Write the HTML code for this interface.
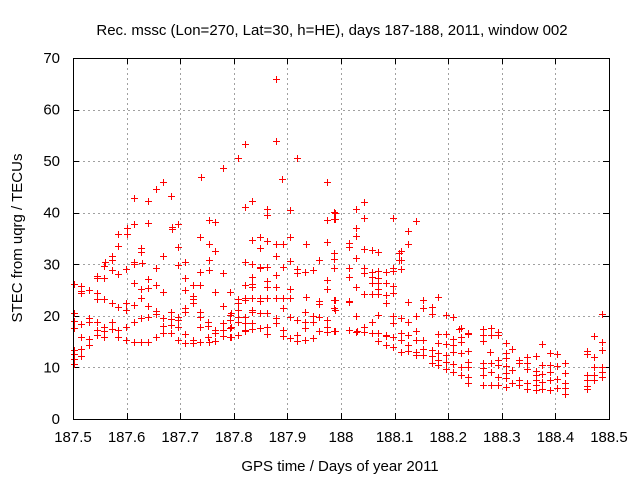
<!DOCTYPE html>
<html><head><meta charset="utf-8">
<style>
html,body{margin:0;padding:0;background:#fff;}
svg{display:block;font-family:"Liberation Sans",sans-serif;}
</style></head>
<body>
<svg id="chart" width="640" height="480" viewBox="0 0 640 480" xmlns="http://www.w3.org/2000/svg">
<rect x="0" y="0" width="640" height="480" fill="#fff"/>
<text x="332" y="35" font-size="15" text-anchor="middle" fill="#000">Rec. mssc (Lon=270, Lat=30, h=HE), days 187-188, 2011, window 002</text>
<g id="grid"></g>
<g id="ticks"></g>
<g id="marks"></g>
<rect x="73.5" y="58.5" width="536" height="361" fill="none" stroke="#000" stroke-width="1"/>
<text x="340" y="471" font-size="15" text-anchor="middle">GPS time / Days of year 2011</text>
<text x="0" y="0" font-size="15" text-anchor="middle" transform="translate(22,238) rotate(-90)">STEC from uqrg / TECUs</text>
</svg>
<script>
const xTicks = [187.5,187.6,187.7,187.8,187.9,188,188.1,188.2,188.3,188.4,188.5];
const xTickLabels = ["187.5","187.6","187.7","187.8","187.9","188","188.1","188.2","188.3","188.4","188.5"];
const yTicks = [0,10,20,30,40,50,60,70];
const yTickLabels = ["0","10","20","30","40","50","60","70"];
const obsA = [[187.821,53.3],[187.808,50.6],[187.780,48.7],[187.739,46.9],[187.668,46.0],[187.655,44.6],[187.683,43.2],[187.614,42.9],[187.640,42.3],[187.834,42.3],[187.821,41.1],[187.614,37.8],[187.640,38.0],[187.600,37.0],[187.684,37.2],[187.684,36.8],[187.696,37.8],[187.754,38.6],[187.765,38.2],[187.584,35.9],[187.600,35.9],[187.737,35.3],[187.834,34.7],[187.584,33.5],[187.627,33.2],[187.627,32.4],[187.696,33.4],[187.754,33.9],[187.765,32.6],[187.668,31.6],[187.572,31.6],[187.560,30.4],[187.572,30.8],[187.614,30.4],[187.614,30.1],[187.628,30.2],[187.754,30.8],[187.709,30.4],[187.821,30.4],[187.834,30.1],[187.558,29.7],[187.572,28.9],[187.584,28.1],[187.598,29.1],[187.696,29.9],[187.655,29.3],[187.737,28.5],[187.754,28.9],[187.780,28.3],[187.545,27.7],[187.558,27.3],[187.545,27.3],[187.502,26.2],[187.514,25.8],[187.640,27.2],[187.709,27.3],[187.834,27.5],[187.834,26.2],[187.821,26.0],[187.614,26.4],[187.640,25.4],[187.627,25.2],[187.655,26.0],[187.668,24.6],[187.709,25.0],[187.724,26.0],[187.737,26.0],[187.765,24.6],[187.793,24.6],[187.514,24.8],[187.530,25.0],[187.514,24.4],[187.545,24.4],[187.545,23.3],[187.558,23.3],[187.572,22.5],[187.584,21.7],[187.598,22.5],[187.598,21.1],[187.614,22.1],[187.627,23.5],[187.640,21.9],[187.655,20.9],[187.655,20.4],[187.683,20.7],[187.696,19.8],[187.696,19.2],[187.709,21.5],[187.709,20.7],[187.724,23.9],[187.724,23.3],[187.724,22.5],[187.737,20.7],[187.737,19.8],[187.780,21.9],[187.808,23.3],[187.808,22.5],[187.821,23.1],[187.834,20.7]];
const obsB = [[187.502,20.6],[187.502,19.0],[187.502,17.6],[187.514,18.4],[187.530,19.6],[187.530,18.8],[187.545,18.8],[187.545,17.3],[187.558,17.8],[187.558,17.1],[187.572,18.8],[187.572,17.5],[187.584,17.3],[187.598,17.8],[187.614,18.8],[187.627,19.6],[187.640,19.8],[187.668,19.6],[187.668,18.0],[187.683,19.4],[187.683,18.2],[187.696,17.8],[187.752,18.8],[187.752,18.0],[187.765,17.3],[187.765,16.7],[187.780,18.6],[187.780,17.3],[187.780,16.1],[187.793,20.2],[187.793,19.2],[187.793,17.6],[187.808,21.1],[187.808,19.8],[187.808,18.8],[187.821,18.6],[187.821,17.3],[187.834,18.6],[187.834,17.5],[187.514,15.9],[187.530,15.5],[187.530,14.3],[187.545,16.3],[187.558,15.9],[187.584,15.9],[187.598,15.3],[187.614,14.9],[187.627,14.9],[187.640,14.9],[187.655,15.9],[187.668,16.7],[187.683,16.7],[187.696,15.3],[187.709,16.5],[187.709,14.7],[187.724,15.3],[187.724,14.7],[187.737,14.9],[187.754,14.9],[187.752,15.9],[187.765,15.1],[187.793,15.9],[187.808,16.3],[187.502,12.6],[187.502,11.6],[187.514,13.6],[187.514,12.2],[187.502,10.7],[187.502,13.4],[187.737,17.8]];
const obsC = [[187.879,65.9],[187.879,53.9],[187.918,50.6],[187.889,46.5],[187.974,46.0],[187.862,40.7],[187.862,39.6],[187.905,40.5],[187.974,38.6],[187.987,40.1],[187.987,38.8],[188.028,40.7],[188.043,42.1],[188.043,39.0],[188.028,37.0],[188.028,35.5],[188.097,39.0],[187.849,35.3],[187.849,33.2],[187.862,34.5],[187.879,33.9],[187.891,33.9],[187.905,35.3],[187.935,33.9],[187.974,34.3],[188.015,34.1],[188.015,33.4],[188.043,33.0],[188.058,32.8],[188.069,32.4],[187.987,32.2],[187.987,31.0],[187.879,31.6],[187.849,29.5],[187.849,29.3],[187.862,29.5],[187.891,29.5],[187.905,30.6],[187.959,30.8],[188.028,31.2],[188.108,32.2],[188.108,30.8],[187.918,29.1],[187.918,28.3],[187.933,28.5],[187.947,28.9],[187.987,29.3],[188.015,29.3],[188.015,27.5],[188.043,29.3],[188.043,28.3],[188.058,28.5],[188.058,27.5],[188.069,28.7],[188.069,27.3],[188.084,28.5],[188.097,28.7],[188.097,29.3],[187.834,25.6],[187.862,26.8],[187.862,25.6],[187.879,27.9],[187.879,25.6],[187.905,25.2],[187.974,27.0],[187.974,25.2],[188.028,25.6],[188.058,26.4],[188.069,26.4],[188.069,25.2],[188.069,24.2],[188.058,24.2],[188.084,26.4],[188.084,24.1],[188.084,22.5],[188.097,25.8],[188.097,24.4]];
const obsD = [[187.821,23.5],[187.834,23.5],[187.849,23.5],[187.849,22.9],[187.862,23.5],[187.879,23.5],[187.891,23.5],[187.905,23.5],[187.935,23.7],[187.959,22.9],[187.959,22.3],[187.987,23.1],[188.015,22.9],[188.028,20.0],[188.069,20.2],[188.097,20.0],[188.097,18.6],[187.795,20.6],[187.795,17.8],[187.795,15.9],[187.821,19.8],[187.821,17.1],[187.834,21.1],[187.849,20.6],[187.849,17.6],[187.862,20.6],[187.862,17.8],[187.862,16.5],[187.879,19.6],[187.879,18.6],[187.891,21.5],[187.891,17.3],[187.891,16.1],[187.905,19.8],[187.905,15.7],[187.918,19.2],[187.918,16.3],[187.918,15.1],[187.933,20.7],[187.933,18.8],[187.933,17.6],[187.933,15.3],[187.947,20.0],[187.947,18.8],[187.947,15.7],[187.959,19.8],[187.959,17.1],[187.974,19.2],[187.974,17.8],[187.974,16.9],[187.987,21.5],[187.987,17.1],[188.015,17.3],[188.028,16.9],[188.043,17.8],[188.043,16.9],[188.058,16.7],[188.069,16.7],[188.069,15.1],[188.084,16.1],[188.084,14.3],[188.097,15.9],[188.097,14.0]];
const obsE = [[187.989,39.9],[187.989,38.8],[188.140,38.4],[188.125,36.5],[188.125,33.9],[188.112,32.6],[188.112,30.8],[188.112,29.1],[188.042,24.2],[188.125,22.7],[188.153,23.1],[188.153,21.5],[188.170,21.7],[188.170,20.4],[188.181,23.7],[187.989,23.1],[187.989,21.1],[188.015,22.7],[188.112,19.6],[188.125,18.8],[188.140,20.0],[188.196,20.2],[188.209,19.8],[187.989,17.1],[188.030,17.1],[188.058,18.8],[188.084,16.3],[188.112,16.7],[188.112,15.3],[188.112,13.0],[188.125,16.3],[188.125,14.3],[188.125,13.2],[188.140,17.1],[188.140,15.3],[188.140,13.0],[188.140,12.4],[188.153,15.3],[188.153,13.6],[188.153,12.4],[188.170,13.4],[188.170,12.2],[188.170,10.9],[188.181,16.5],[188.181,14.7],[188.181,12.8],[188.181,11.4],[188.181,10.5],[188.196,16.5],[188.196,14.5],[188.196,12.4],[188.196,11.1],[188.196,9.7],[188.209,15.5],[188.209,14.3],[188.209,13.0],[188.209,10.7],[188.209,9.1],[188.223,17.6],[188.223,15.9],[188.223,14.9],[188.223,12.8],[188.223,10.1],[188.223,8.5],[188.237,16.7],[188.237,13.2],[188.237,11.1],[188.237,10.1],[188.237,8.1],[188.221,17.5]];
const obsF = [[188.487,20.4],[188.265,17.5],[188.265,16.3],[188.265,15.1],[188.280,17.6],[188.280,16.3],[188.293,16.9],[188.293,16.3],[188.237,16.5],[188.237,7.0],[188.265,10.9],[188.265,9.9],[188.265,8.5],[188.265,6.6],[188.278,13.0],[188.280,10.9],[188.280,9.1],[188.280,6.6],[188.293,11.4],[188.293,10.5],[188.293,8.1],[188.293,6.6],[188.308,14.7],[188.308,12.8],[188.308,11.8],[188.308,10.3],[188.308,8.9],[188.308,8.0],[188.308,6.2],[188.319,13.6],[188.319,9.5],[188.319,7.0],[188.333,11.4],[188.333,10.9],[188.333,7.6],[188.333,6.6],[188.347,12.0],[188.347,10.9],[188.347,9.7],[188.347,7.0],[188.347,5.8],[188.363,12.2],[188.363,9.3],[188.363,8.5],[188.363,7.6],[188.363,6.6],[188.363,5.6],[188.375,14.5],[188.375,10.5],[188.375,8.7],[188.375,7.2],[188.375,5.8],[188.389,12.8],[188.389,10.5],[188.389,9.1],[188.389,7.6],[188.389,5.6],[188.403,12.6],[188.403,10.3],[188.403,7.8],[188.403,6.0],[188.417,10.9],[188.417,8.9],[188.417,7.0],[188.417,6.0],[188.417,4.8],[188.459,13.2],[188.459,12.6],[188.459,8.5],[188.459,7.6],[188.459,6.4],[188.459,5.8],[188.472,16.1],[188.472,12.0],[188.472,10.1],[188.472,8.5],[188.472,7.6],[188.487,14.9],[188.487,13.4],[188.487,10.1],[188.487,9.1],[188.487,8.1]];

const L=73,R=609,T=58,B=419;
const xMin=187.5,xMax=188.5,yMin=0,yMax=70;
function xs(v){return L+(v-xMin)/(xMax-xMin)*(R-L);}
function ys(v){return B-(v-yMin)/(yMax-yMin)*(B-T);}
const NS="http://www.w3.org/2000/svg";
function mk(tag,attrs,parent){const e=document.createElementNS(NS,tag);for(const k in attrs)e.setAttribute(k,attrs[k]);parent.appendChild(e);return e;}
const grid=document.getElementById('grid'),ticks=document.getElementById('ticks'),marks=document.getElementById('marks');
xTicks.forEach((t,i)=>{
  const x=Math.round(xs(t))+0.5;
  if(i>0&&i<xTicks.length-1){
    const g=mk('line',{x1:x,x2:x,y1:T,y2:B,stroke:'#a0a0a0','stroke-dasharray':'2,3','stroke-width':1},grid);
    
    
  }
  const tk=mk('path',{d:`M${x},${B}v-6M${x},${T}v6`,stroke:'#000','stroke-width':1},ticks);
  
  
  const lb=mk('text',{x:xs(t),y:B+23,'font-size':15,'text-anchor':'middle'},ticks);
  lb.textContent=xTickLabels[i];
  
  
});
yTicks.forEach((t,i)=>{
  const y=Math.round(ys(t))+0.5;
  if(i>0&&i<yTicks.length-1){
    const g=mk('line',{x1:L,x2:R,y1:y,y2:y,stroke:'#a0a0a0','stroke-dasharray':'2,3','stroke-width':1},grid);
    
    
  }
  const tk=mk('path',{d:`M${L},${y}h6M${R},${y}h-6`,stroke:'#000','stroke-width':1},ticks);
  
  
  const lb=mk('text',{x:L-13,y:ys(t)+5,'font-size':15,'text-anchor':'end'},ticks);
  lb.textContent=yTickLabels[i];
  
  
});
[obsA,obsB,obsC,obsD,obsE,obsF].forEach(arr=>arr.forEach(p=>{
  const x=Math.round(xs(p[0]))+0.5,y=Math.round(ys(p[1]))+0.5;
  const m=mk('path',{d:`M${x-3.5},${y}h7M${x},${y-3.5}v7`,stroke:'#ff0000','stroke-width':1},marks);
  
  
}));
</script>
</body></html>
